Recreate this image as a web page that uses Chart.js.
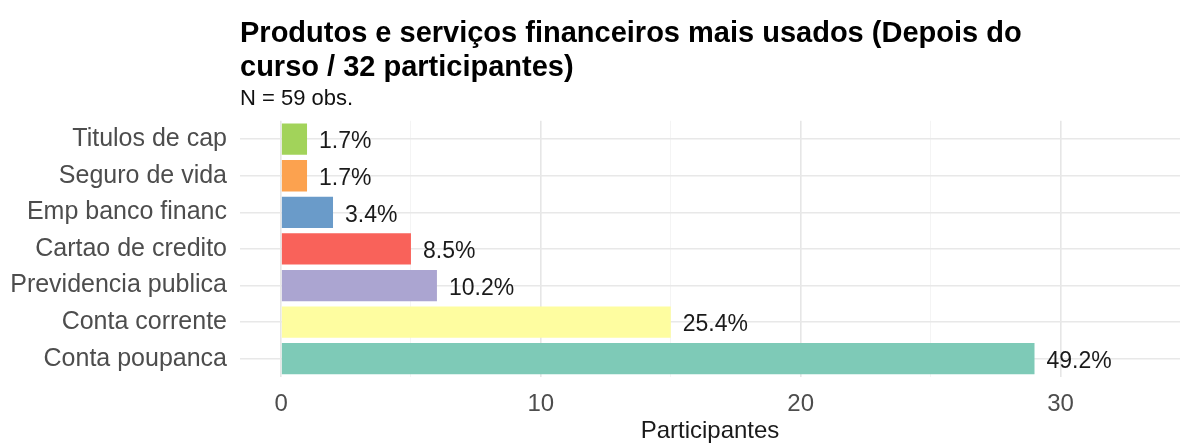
<!DOCTYPE html>
<html>
<head>
<meta charset="utf-8">
<script src="https://cdn.jsdelivr.net/npm/chart.js@4/dist/chart.umd.min.js"></script>
<style>
  html, body { margin: 0; padding: 0; background: #ffffff; }
  #wrap { width: 1186px; height: 443px; }
</style>
</head>
<body>
<div id="wrap"><canvas id="c" width="1186" height="443"></canvas></div>
<script>
const categories = ['Titulos de cap', 'Seguro de vida', 'Emp banco financ', 'Cartao de credito', 'Previdencia publica', 'Conta corrente', 'Conta poupanca'];
const participantes = [1, 1, 2, 5, 6, 15, 29];
const barColors = ['#A2D35A', '#FCA24F', '#6A9BC9', '#F9625A', '#ABA5D1', '#FEFDA0', '#7ECAB7'];
const xTicks = [0, 10, 20, 30];
const titleLines = ['Produtos e serviços financeiros mais usados (Depois do', 'curso / 32 participantes)'];
const subtitleText = 'N = 59 obs.';
const xTitle = 'Participantes';

const FONT = "'Liberation Sans', Arial, Helvetica, sans-serif";
const total = participantes.reduce((a, b) => a + b, 0);

const pctLabels = {
  id: 'pctLabels',
  afterDatasetsDraw(chart) {
    const ctx = chart.ctx;
    const meta = chart.getDatasetMeta(0);
    ctx.save();
    ctx.font = '23px ' + FONT;
    ctx.fillStyle = '#1a1a1a';
    ctx.textAlign = 'left';
    ctx.textBaseline = 'middle';
    meta.data.forEach((bar, i) => {
      const v = chart.data.datasets[0].data[i];
      const txt = (v / total * 100).toFixed(1) + '%';
      ctx.fillText(txt, bar.x + 12, bar.y + 3);
    });
    ctx.restore();
  }
};

new Chart(document.getElementById('c'), {
  type: 'bar',
  data: {
    labels: categories,
    datasets: [{
      data: participantes,
      backgroundColor: barColors,
      borderWidth: 0,
      barPercentage: 0.855,
      categoryPercentage: 1
    }]
  },
  options: {
    indexAxis: 'y',
    responsive: false,
    maintainAspectRatio: false,
    animation: false,
    layout: { padding: { left: 0, right: 6, top: 0, bottom: 0 } },
    plugins: {
      legend: { display: false },
      tooltip: { enabled: false },
      title: {
        display: true,
        text: titleLines,
        align: 'start',
        fullSize: false,
        color: '#000000',
        font: { family: FONT, size: 29, weight: 'bold', lineHeight: 1.17 },
        padding: { top: 17, bottom: 0 }
      },
      subtitle: {
        display: true,
        text: subtitleText,
        align: 'start',
        fullSize: false,
        color: '#111111',
        font: { family: FONT, size: 22, lineHeight: 1 },
        padding: { top: 3, bottom: 11 }
      }
    },
    scales: {
      x: {
        type: 'linear',
        min: -1.58,
        max: 34.6,
        border: { display: false },
        grid: {
          drawTicks: false,
          color: (c) => (c.tick && xTicks.includes(c.tick.value)) ? '#e6e6e6' : '#f3f3f3',
          lineWidth: (c) => (c.tick && xTicks.includes(c.tick.value)) ? 1.6 : 0.9
        },
        ticks: {
          stepSize: 5,
          includeBounds: false,
          autoSkip: false,
          maxRotation: 0,
          padding: 15,
          color: '#4d4d4d',
          font: { family: FONT, size: 24, lineHeight: 1 },
          callback: (v) => xTicks.includes(v) ? String(v) : ''
        },
        title: {
          display: true,
          text: xTitle,
          color: '#1a1a1a',
          font: { family: FONT, size: 24, lineHeight: 1 },
          padding: { top: 2, bottom: 0 }
        },
        afterFit(scale) { scale.height = 66; }
      },
      y: {
        type: 'category',
        offset: true,
        border: { display: false },
        grid: {
          offset: false,
          drawTicks: false,
          color: '#e8e8e8',
          lineWidth: 1.6
        },
        ticks: {
          padding: 13,
          color: '#4d4d4d',
          font: { family: FONT, size: 25 }
        },
        afterFit(scale) { scale.width = 240; }
      }
    }
  },
  plugins: [pctLabels]
});
</script>
</body>
</html>
